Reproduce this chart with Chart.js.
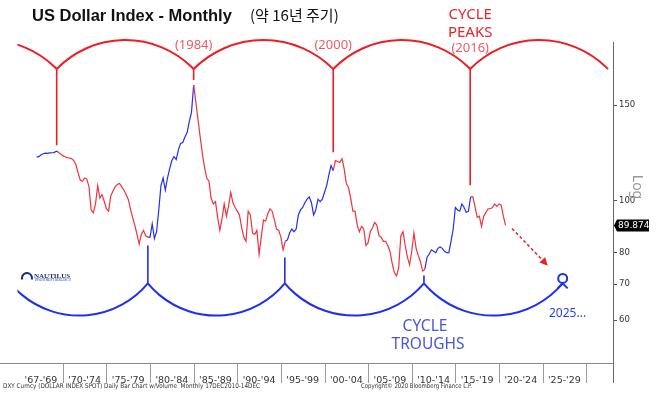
<!DOCTYPE html>
<html>
<head>
<meta charset="utf-8">
<script src="https://cdn.jsdelivr.net/npm/chart.js@4.4.1/dist/chart.umd.min.js"></script>
<style>
  html, body { margin: 0; padding: 0; background: #fff; }
  canvas { display: block; }
</style>
</head>
<body>
<canvas id="dxyChart" width="657" height="395"></canvas>
<script>
// DXY 월간 (분기 평균으로 읽은 값), 1967년부터
const startYear = 1967;
const dxyQuarterly = [
    120.2, 120.5, 121.5, 122.0,   // 1967
    122.3, 122.2, 122.4, 122.5,   // 1968
    122.6, 123.3, 122.8, 121.8,   // 1969
    121.0, 120.4, 120.0, 119.8,   // 1970
    119.5, 118.5, 116.5, 112.5,   // 1971
    109.0, 108.5, 110.0, 109.5,   // 1972
    106.0, 96.0, 94.8, 98.5,      // 1973
    106.5, 101.0, 102.5, 99.5,    // 1974
    96.5, 95.5, 102.0, 104.0,     // 1975
    106.0, 107.0, 107.5, 106.0,   // 1976
    104.5, 102.5, 100.5, 96.5,    // 1977
    93.0, 90.0, 86.5, 83.0,       // 1978
    86.5, 88.0, 86.0, 85.5,       // 1979
    85.5, 90.5, 85.0, 87.5,       // 1980
    96.0, 106.5, 110.0, 104.5,    // 1981
    110.0, 114.5, 118.5, 120.5,   // 1982
    119.0, 124.0, 127.5, 128.0,   // 1983
    131.0, 133.5, 140.0, 145.5,   // 1984
    163.5, 152.0, 141.0, 131.0,   // 1985
    122.0, 115.0, 110.0, 108.5,   // 1986
    101.0, 98.5, 99.5, 93.0,      // 1987
    88.0, 92.5, 98.5, 93.5,       // 1988
    97.5, 103.5, 99.0, 97.0,      // 1989
    95.5, 94.0, 89.0, 85.5,       // 1990
    84.0, 95.5, 94.0, 87.0,       // 1991
    86.5, 88.0, 79.5, 85.5,       // 1992
    92.0, 91.5, 94.5, 96.5,       // 1993
    95.5, 92.0, 88.5, 88.0,       // 1994
    85.5, 81.0, 84.0, 84.5,       // 1995
    87.0, 88.5, 87.5, 88.5,       // 1996
    94.0, 96.0, 97.0, 99.0,       // 1997
    100.5, 101.5, 99.0, 94.0,     // 1998
    96.0, 100.5, 99.5, 100.5,     // 1999
    103.5, 106.5, 111.5, 116.0,   // 2000
    113.5, 118.5, 118.0, 117.5,   // 2001
    119.5, 114.5, 107.5, 105.5,   // 2002
    101.0, 95.5, 95.5, 90.0,      // 2003
    87.5, 89.5, 88.5, 82.5,       // 2004
    83.5, 87.5, 89.0, 91.0,       // 2005
    90.0, 86.0, 85.5, 84.0,       // 2006
    84.0, 82.5, 80.5, 76.5,       // 2007
    73.5, 72.5, 75.0, 86.0,       // 2008
    87.5, 82.5, 78.5, 76.0,       // 2009
    80.5, 87.0, 81.5, 79.0,       // 2010
    77.0, 74.0, 74.5, 78.5,       // 2011
    79.5, 81.0, 80.5, 80.0,       // 2012
    81.5, 82.0, 81.5, 80.5,       // 2013
    80.0, 80.0, 84.0, 88.5,       // 2014
    97.0, 96.0, 95.5, 98.5,       // 2015
    97.0, 95.0, 95.5, 101.5,      // 2016
    101.5, 97.5, 93.0, 93.5,      // 2017
    89.5, 93.5, 95.0, 96.5,       // 2018
    96.5, 97.0, 98.5, 97.5,       // 2019
    98.5, 98.0, 93.5, 89.9        // 2020
];
const lastValue = 89.874;

// 사이클 고점 / 저점 (년)
const peakYears = [1969.3, 1985.0, 2001.0, 2016.7];
const troughYears = [1979.75, 1995.45, 2011.4];
const peakArcYears = [1953.6, 1969.3, 1985.0, 2001.0, 2016.7, 2032.5];
const troughArcYears = [1964.0, 1979.75, 1995.45, 2011.4, 2027.3];
const peakLineEnds = [126.5, 167, 122.8, 106.6];
const troughLineEnds = [82.5, 78.4, 72.6];
const peakLabels = ['(1984)', '(2000)'];
const forecastArrow = [[2021.5, 88.7], [2025.6, 75.7]];

// 축
const yTicks = [60, 70, 80, 100, 150];
const bandLabels = ["'67-'69", "'70-'74", "'75-'79", "'80-'84", "'85-'89", "'90-'94", "'95-'99",
                    "'00-'04", "'05-'09", "'10-'14", "'15-'19", "'20-'24", "'25-'29"];
const bandCenters = [1967.5, 1972.5, 1977.5, 1982.5, 1987.5, 1992.5, 1997.5,
                     2002.5, 2007.5, 2012.5, 2017.5, 2022.5, 2027.5];
const bandEdges = [1970, 1975, 1980, 1985, 1990, 1995, 2000, 2005, 2010, 2015, 2020, 2025, 2030];

const RED = '#f0323c';
const BLUE = '#2230ee';

function isFalling(year) {
    let last = null;
    peakYears.forEach(p => { if (year >= p && (last === null || p > last.y)) last = { y: p, t: 'peak' }; });
    troughYears.forEach(t => { if (year >= t && (last === null || t > last.y)) last = { y: t, t: 'trough' }; });
    return last !== null && last.t === 'peak';
}

const points = dxyQuarterly.map((v, i) => ({ x: startYear + i / 4, y: v }));

function drawArc(ctx, x1, x2, yc, sag, up) {
    const c = x2 - x1;
    const r = (c * c / 4 + sag * sag) / (2 * sag);
    const cx = (x1 + x2) / 2;
    const cy = up ? yc - sag + r : yc + sag - r;
    const a1 = Math.atan2(yc - cy, x1 - cx);
    const a2 = Math.atan2(yc - cy, x2 - cx);
    ctx.beginPath();
    if (up) ctx.arc(cx, cy, r, a1, a2, false);
    else ctx.arc(cx, cy, r, a2, a1, false);
    ctx.stroke();
}

const cyclePlugin = {
    id: 'cycles',
    afterDatasetsDraw(chart) {
        const ctx = chart.ctx;
        const xs = chart.scales.x, ys = chart.scales.y;
        const area = chart.chartArea;
        const px = v => xs.getPixelForValue(v);
        const py = v => ys.getPixelForValue(v);

        ctx.save();
        ctx.beginPath();
        ctx.rect(px(1964.8), 0, area.right - px(1964.8), area.bottom);
        ctx.clip();

        // 고점 아치
        ctx.strokeStyle = '#f01c24';
        ctx.lineWidth = 2;
        const peakCusp = py(175), peakTop = py(198);
        for (let i = 0; i < peakArcYears.length - 1; i++) {
            drawArc(ctx, px(peakArcYears[i]), px(peakArcYears[i + 1]), peakCusp, peakCusp - peakTop, true);
        }
        ctx.lineWidth = 1.6;
        peakYears.forEach((p, i) => {
            ctx.beginPath();
            ctx.moveTo(px(p), peakCusp);
            ctx.lineTo(px(p), py(peakLineEnds[i]));
            ctx.stroke();
        });

        // 저점 아치
        ctx.strokeStyle = '#1f2ff0';
        ctx.lineWidth = 2;
        const trCusp = py(70.2), trBottom = py(61.2);
        for (let i = 0; i < troughArcYears.length - 1; i++) {
            drawArc(ctx, px(troughArcYears[i]), px(troughArcYears[i + 1]), trCusp, trBottom - trCusp, false);
        }
        ctx.lineWidth = 1.6;
        troughYears.forEach((t, i) => {
            ctx.beginPath();
            ctx.moveTo(px(t), trCusp);
            ctx.lineTo(px(t), py(troughLineEnds[i]));
            ctx.stroke();
        });
        // 2025 예상 저점 표시
        const cx = px(troughArcYears[troughArcYears.length - 1]);
        ctx.lineWidth = 2;
        ctx.beginPath();
        ctx.arc(cx, py(71.7), 4.5, 0, Math.PI * 2);
        ctx.stroke();
        ctx.beginPath();
        ctx.moveTo(cx - 5, trCusp + 5);
        ctx.lineTo(cx, trCusp);
        ctx.lineTo(cx + 5, trCusp + 5);
        ctx.moveTo(cx, trCusp);
        ctx.lineTo(cx, py(71.7) + 4.5);
        ctx.stroke();
        ctx.restore();

        // 점선 화살표
        const ax1 = px(forecastArrow[0][0]), ay1 = py(forecastArrow[0][1]);
        const ax2 = px(forecastArrow[1][0]), ay2 = py(forecastArrow[1][1]);
        const ang = Math.atan2(ay2 - ay1, ax2 - ax1);
        ctx.save();
        ctx.strokeStyle = '#f01c24';
        ctx.fillStyle = '#f01c24';
        ctx.lineWidth = 1.5;
        ctx.setLineDash([3, 2.5]);
        ctx.beginPath();
        ctx.moveTo(ax1, ay1);
        ctx.lineTo(ax2 - 6 * Math.cos(ang), ay2 - 6 * Math.sin(ang));
        ctx.stroke();
        ctx.setLineDash([]);
        ctx.beginPath();
        ctx.moveTo(ax2, ay2);
        ctx.lineTo(ax2 - 9 * Math.cos(ang - 0.45), ay2 - 9 * Math.sin(ang - 0.45));
        ctx.lineTo(ax2 - 9 * Math.cos(ang + 0.45), ay2 - 9 * Math.sin(ang + 0.45));
        ctx.closePath();
        ctx.fill();
        ctx.restore();

        // 하단 구간 구분선
        ctx.save();
        ctx.strokeStyle = '#9a9a9a';
        ctx.lineWidth = 1;
        bandEdges.forEach(e => {
            const x = Math.round(px(e)) + 0.5;
            ctx.beginPath();
            ctx.moveTo(x, area.bottom);
            ctx.lineTo(x, area.bottom + 20);
            ctx.stroke();
        });
        ctx.strokeStyle = '#666';
        ctx.beginPath();
        ctx.moveTo(area.right + 0.5, area.bottom);
        ctx.lineTo(area.right + 0.5, area.bottom + 20);
        ctx.stroke();
        ctx.restore();

        // 텍스트
        ctx.save();
        ctx.textBaseline = 'alphabetic';
        ctx.fillStyle = '#111';
        ctx.font = 'bold 16.5px "Liberation Sans", Arial, sans-serif';
        ctx.textAlign = 'left';
        ctx.fillText('US Dollar Index - Monthly', 32, 21);
        ctx.font = '15px "Noto Sans CJK KR", sans-serif';
        ctx.fillText('(약 16년 주기)', 250, 21);

        ctx.textAlign = 'center';
        ctx.fillStyle = '#e8242c';
        ctx.font = '15px "Noto Sans", sans-serif';
        ctx.fillText('CYCLE', px(peakYears[3]), 19);
        ctx.fillText('PEAKS', px(peakYears[3]), 37);
        ctx.fillStyle = '#f05a66';
        ctx.font = '13px "Noto Sans", sans-serif';
        ctx.fillText('(2016)', px(peakYears[3]), 52);
        ctx.fillText(peakLabels[0], px(peakYears[1]), 49);
        ctx.fillText(peakLabels[1], px(peakYears[2]), 49);

        ctx.fillStyle = '#4b55d6';
        ctx.font = '15.5px "Noto Sans", sans-serif';
        ctx.fillText('CYCLE', 425, 331);
        ctx.fillText('TROUGHS', 428, 349);
        ctx.fillStyle = '#2a3ee0';
        ctx.font = '12px "Noto Sans", sans-serif';
        ctx.textAlign = 'left';
        ctx.fillText('2025...', 549, 317);

        // Log 라벨
        ctx.save();
        ctx.translate(633, 187);
        ctx.rotate(Math.PI / 2);
        ctx.fillStyle = '#9a9a9a';
        ctx.font = '14px "Noto Sans", sans-serif';
        ctx.textAlign = 'center';
        ctx.fillText('Log', 0, 0);
        ctx.restore();

        // 마지막 값 라벨
        const ly = py(lastValue);
        ctx.fillStyle = '#000';
        ctx.beginPath();
        ctx.moveTo(area.right + 1, ly);
        ctx.lineTo(area.right + 4, ly - 6);
        ctx.lineTo(area.right + 36, ly - 6);
        ctx.lineTo(area.right + 36, ly + 6);
        ctx.lineTo(area.right + 4, ly + 6);
        ctx.closePath();
        ctx.fill();
        ctx.fillStyle = '#fff';
        ctx.font = '9px "DejaVu Sans", sans-serif';
        ctx.textAlign = 'left';
        ctx.textBaseline = 'middle';
        ctx.fillText(lastValue.toFixed(3), area.right + 5, ly + 0.5);

        // 로고
        ctx.textBaseline = 'alphabetic';
        ctx.strokeStyle = '#1e2f78';
        ctx.lineWidth = 2;
        ctx.beginPath();
        ctx.arc(27, 278, 5, Math.PI * 0.9, Math.PI * 2.1);
        ctx.stroke();
        ctx.fillStyle = '#1e2f78';
        ctx.font = 'bold 7px "Liberation Serif", serif';
        ctx.fillText('NAUTILUS', 34, 278);
        ctx.font = '3px "Liberation Serif", serif';
        ctx.fillText('INVESTMENT RESEARCH', 35, 281);

        // 하단 출처
        ctx.fillStyle = '#333';
        ctx.font = '6.5px "DejaVu Sans", sans-serif';
        ctx.fillText('DXY Curncy (DOLLAR INDEX SPOT) Daily Bar Chart w/Volume  Monthly 17DEC2010-14DEC', 3, 388, 257);
        ctx.fillText('Copyright\u00A9 2020 Bloomberg Finance L.P.', 361, 388, 111);
        ctx.restore();
    }
};

new Chart(document.getElementById('dxyChart'), {
    type: 'line',
    data: {
        datasets: [{
            data: points,
            borderColor: RED,
            borderWidth: 1.2,
            pointRadius: 0,
            tension: 0,
            segment: {
                borderColor: c => isFalling(c.p0.parsed.x) ? RED : BLUE
            }
        }]
    },
    options: {
        responsive: false,
        animation: false,
        devicePixelRatio: 1,
        layout: { padding: { top: 42, left: 0, right: 0, bottom: 0 } },
        plugins: {
            legend: { display: false },
            tooltip: { enabled: false }
        },
        scales: {
            x: {
                type: 'linear',
                min: 1962.8,
                max: 2033.07,
                afterFit: s => { s.height = 32; },
                afterBuildTicks: s => { s.ticks = bandCenters.map(v => ({ value: v })); },
                ticks: {
                    autoSkip: false,
                    maxRotation: 0,
                    padding: 4,
                    color: '#333',
                    font: { family: 'DejaVu Sans', size: 9.5 },
                    callback: (v, i) => bandLabels[i]
                },
                grid: { display: false },
                border: { display: true, color: '#888' }
            },
            y: {
                type: 'logarithmic',
                position: 'right',
                min: 50,
                max: 196.4,
                afterFit: s => { s.width = 44; },
                afterBuildTicks: s => { s.ticks = yTicks.map(v => ({ value: v })); },
                ticks: {
                    padding: 2,
                    color: '#333',
                    font: { family: 'DejaVu Sans', size: 8.5 },
                    callback: v => String(v)
                },
                grid: { drawOnChartArea: false, drawTicks: true, tickLength: 4, color: '#555' },
                border: { display: true, color: '#666' }
            }
        }
    },
    plugins: [cyclePlugin]
});
</script>
</body>
</html>
